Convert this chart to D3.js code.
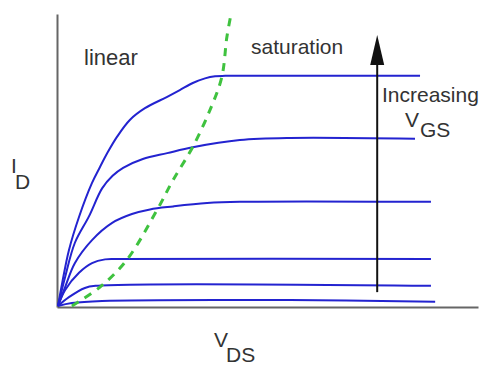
<!DOCTYPE html>
<html>
<head>
<meta charset="utf-8">
<script src="https://cdn.jsdelivr.net/npm/d3@7"></script>
<style>
  html, body { margin: 0; padding: 0; background: #fff; }
  svg { display: block; }
  text { font-family: "Liberation Sans", Arial, sans-serif; fill: #333; }
</style>
</head>
<body>
<svg id="chart" width="480" height="365"></svg>
<script>
// MOSFET output characteristics: I_D vs V_DS for several gate voltages
// Each curve: [V_DS, I_D] pairs (arbitrary units)
const curveVgs1 = [[0,0],[0.10,0.55],[0.26,1.33],[0.50,2.12],[0.81,2.93],[1.00,3.31],[1.19,3.67],[1.40,4.02],[1.71,4.43],[2.07,4.71],[2.60,4.98],[2.90,5.14],[3.21,5.31],[3.50,5.42],[3.74,5.47],[3.98,5.48],[5.50,5.48],[8.62,5.48]];
const curveVgs2 = [[0,0],[0.17,0.69],[0.40,1.50],[0.74,2.14],[1.05,2.80],[1.30,3.10],[1.55,3.29],[2.02,3.50],[2.60,3.64],[3.21,3.78],[4.33,3.95],[5.52,4.00],[8.50,3.98]];
const curveVgs3 = [[0,0],[0.17,0.45],[0.40,1.02],[0.81,1.57],[1.29,1.98],[1.76,2.19],[2.19,2.30],[2.74,2.37],[3.55,2.45],[4.33,2.48],[8.88,2.48]];
const curveVgs4 = [[0,0],[0.17,0.38],[0.50,0.79],[0.81,1.02],[1.12,1.11],[1.40,1.12],[8.88,1.12]];
const curveVgs5 = [[0,0],[0.26,0.21],[0.64,0.43],[0.90,0.48],[8.88,0.48]];
const curveVgs6 = [[0,0],[0.33,0.07],[1.05,0.12],[5.52,0.14],[8.98,0.10]];
// Boundary between linear and saturation regions (V_DS = V_GS - V_T)
const boundary = [[0.33,0],[1.00,0.45],[1.64,1.10],[2.36,2.29],[2.74,3.00],[3.21,3.79],[3.62,4.67],[3.90,5.45],[4.02,6.40],[4.12,6.95]];
// "Increasing V_GS" arrow: V_DS position and I_D span
const arrowX = [7.60];
const arrowSpan = [0.33, 6.45];
const axisMax = { vds: 10, id: 6.95 };

const curves = [curveVgs1, curveVgs2, curveVgs3, curveVgs4, curveVgs5, curveVgs6];

const svg = d3.select("#chart");
const x = d3.scaleLinear().domain([0, 10]).range([58, 478]);
const y = d3.scaleLinear().domain([0, 7]).range([306, 12]);

// Axes (no ticks)
const axisG = svg.append("g");
axisG.append("g")
  .attr("transform", `translate(${x(0) - 1},0)`)
  .call(d3.axisLeft(d3.scaleLinear().domain([0, axisMax.id]).range([y(0) + 1, y(axisMax.id)])).tickValues([]).tickSizeOuter(0));
axisG.append("g")
  .attr("transform", `translate(0,${y(0) + 1})`)
  .call(d3.axisBottom(d3.scaleLinear().domain([0, axisMax.vds]).range([x(0) - 1, x(axisMax.vds)])).tickValues([]).tickSizeOuter(0));
axisG.selectAll(".domain").attr("stroke", "#666").attr("stroke-width", 2);

const line = d3.line()
  .x(d => x(d[0]))
  .y(d => y(d[1]))
  .curve(d3.curveCatmullRom.alpha(0.5));

svg.append("g").selectAll("path")
  .data(curves)
  .join("path")
  .attr("d", line)
  .attr("fill", "none")
  .attr("stroke", "#2323d0")
  .attr("stroke-width", 2)
  .attr("stroke-linejoin", "round");

svg.append("path")
  .attr("d", line(boundary))
  .attr("fill", "none")
  .attr("stroke", "#3fc23f")
  .attr("stroke-width", 3)
  .attr("stroke-dasharray", "8,7");

// Arrow
const ax = x(arrowX[0]);
const yBase = y(arrowSpan[0]), yTip = y(arrowSpan[1]);
svg.append("line")
  .attr("x1", ax).attr("x2", ax)
  .attr("y1", yBase).attr("y2", yTip + 20)
  .attr("stroke", "#111").attr("stroke-width", 2);
svg.append("path")
  .attr("d", `M${ax},${yTip} L${ax - 7},${yTip + 30} L${ax + 7},${yTip + 30} Z`)
  .attr("fill", "#111");

// Labels
const fs = 21;
function label(tx, ty, str, size) {
  svg.append("text").attr("x", tx).attr("y", ty).attr("font-size", size || fs).text(str);
}
label(84, 65, "linear", 22);
label(251, 54, "saturation");
label(382, 102, "Increasing");
label(405, 127, "V");
label(420, 137, "GS");
label(11, 173, "I");
label(15, 189, "D");
label(214, 347, "V");
label(226, 362, "DS");
</script>
</body>
</html>
